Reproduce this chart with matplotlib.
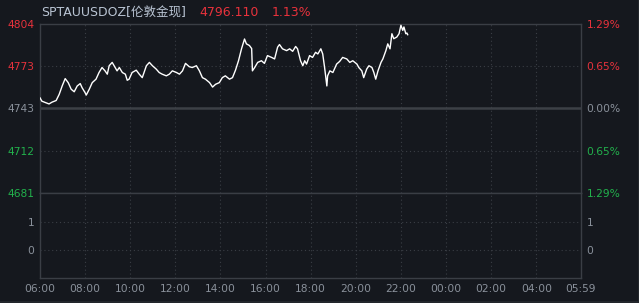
import matplotlib.pyplot as plt
from matplotlib.patches import Rectangle

# price series (minutes after 06:00, price)
time_min = [0, 5, 16, 24, 32, 43, 51, 59, 67, 75, 83, 91, 99, 107, 112, 120, 123, 131,
            139, 149, 157, 165, 173, 179, 184, 192, 200, 205, 211, 219, 227, 232, 237,
            245, 256, 264, 272, 283, 291, 299, 309, 317, 325, 336, 344, 352, 363, 371,
            379, 387, 397, 405, 416, 424, 432, 440, 451, 459, 467, 477, 485, 493, 504,
            512, 520, 528, 536, 544, 549, 557, 563, 565, 571, 579, 589, 597, 605, 616,
            624, 632, 637, 645, 656, 664, 672, 680, 685, 693, 699, 704, 709, 717, 725,
            733, 739, 747, 752, 757, 763, 765, 771, 779, 789, 797, 805, 816, 824, 832,
            843, 848, 856, 861, 869, 875, 883, 888, 893, 899, 907, 912, 920, 925, 931,
            936, 941, 949, 955, 960, 965, 968, 973, 976, 978]
price = [4750.5, 4748.1, 4746.9, 4746.1, 4747.4, 4748.6, 4753.0, 4759.1, 4764.4, 4761.5,
         4756.7, 4754.9, 4759.1, 4760.8, 4757.8, 4754.2, 4752.5, 4756.7, 4761.5, 4764.0,
         4768.8, 4772.4, 4770.0, 4767.6, 4773.7, 4776.1, 4772.4, 4770.0, 4772.4, 4768.8,
         4767.6, 4763.2, 4764.0, 4768.8, 4770.5, 4767.6, 4765.1, 4773.7, 4776.1, 4773.7,
         4771.3, 4768.8, 4767.6, 4766.4, 4767.6, 4770.0, 4768.8, 4767.6, 4770.0, 4775.4,
         4773.0, 4772.4, 4773.7, 4770.0, 4765.1, 4764.0, 4761.5, 4758.3, 4760.3, 4761.5,
         4765.1, 4766.4, 4764.0, 4765.1, 4770.5, 4777.3, 4785.9, 4793.0, 4789.5, 4788.3,
         4786.1, 4770.0, 4772.4, 4776.1, 4777.3, 4775.4, 4781.0, 4779.7, 4778.6, 4787.1,
         4789.0, 4785.9, 4784.6, 4785.9, 4784.1, 4787.6, 4785.9, 4777.3, 4773.7, 4777.3,
         4774.9, 4781.0, 4779.7, 4783.4, 4782.2, 4785.9, 4782.2, 4772.4, 4759.1, 4766.4,
         4770.0, 4768.8, 4774.9, 4776.8, 4779.7, 4778.6, 4776.1, 4777.3, 4774.9, 4772.4,
         4770.0, 4765.1, 4771.3, 4773.7, 4772.4, 4768.8, 4764.0, 4770.0, 4776.1, 4778.6,
         4784.6, 4789.5, 4785.9, 4796.8, 4793.2, 4794.4, 4796.8, 4802.9, 4799.2, 4801.7,
         4796.8, 4797.3, 4796.1]

base = 4743
price_ticks = [4804, 4773, 4743, 4712, 4681]
left_labels = ["4804", "4773", "4743", "4712", "4681"]
right_labels = ["1.29%", "0.65%", "0.00%", "0.65%", "1.29%"]
x_ticks = [0, 120, 240, 360, 480, 600, 720, 840, 960, 1080, 1200, 1320, 1439]
x_labels = ["06:00", "08:00", "10:00", "12:00", "14:00", "16:00", "18:00",
            "20:00", "22:00", "00:00", "02:00", "04:00", "05:59"]

BG = "#15181e"
GRID = "#3a3e45"
RED = "#e8323c"
GREEN = "#22b14c"
GRAY = "#8a919b"
FS = 7.7

W, H = 639, 303
fig = plt.figure(figsize=(W / 100, H / 100), dpi=100, facecolor=BG)

# frame around the widget
fig.patches.append(Rectangle((0, 0), 1, 1 - 301 / H, transform=fig.transFigure,
                             facecolor="#22262b", edgecolor="none"))
fig.patches.append(Rectangle((638 / W, 0), 1 / W, 1, transform=fig.transFigure,
                             facecolor="#22262b", edgecolor="none"))

L, R = 40 / W, 581 / W
ax = fig.add_axes([L, 1 - 193 / H, R - L, 169.5 / H], facecolor=BG)
axv = fig.add_axes([L, 1 - 278 / H, R - L, 85 / H], facecolor=BG)

span = base * 0.0129
for a in (ax, axv):
    a.set_xlim(0, 1439)
    for s in a.spines.values():
        s.set_color(GRID)
        s.set_linewidth(1.0)
    for xt in x_ticks[1:-1]:
        a.axvline(xt, color=GRID, lw=0.8, ls=(0, (1, 2.5)), zorder=1)
    a.tick_params(length=0, labelsize=FS)

ax.set_ylim(base - span, base + span)
ax.axhline(base, color="#3c4046", lw=1.8, zorder=1)
ax.axhline(base + span / 2, color=GRID, lw=0.8, ls=(0, (1, 2.5)), zorder=1)
ax.axhline(base - span / 2, color=GRID, lw=0.8, ls=(0, (1, 2.5)), zorder=1)
ax.plot(time_min, price, color="white", lw=1.0, zorder=3)

tick_pos = [base + span, base + span / 2, base, base - span / 2, base - span]
tick_colors = [RED, RED, GRAY, GREEN, GREEN]
ax.set_yticks(tick_pos)
ax.set_yticklabels(left_labels)
ax.set_xticks([])
ax.tick_params(axis="y", pad=4)
for lbl, c in zip(ax.get_yticklabels(), tick_colors):
    lbl.set_color(c)

axr = ax.twinx()
axr.set_ylim(ax.get_ylim())
axr.set_yticks(tick_pos)
axr.set_yticklabels(right_labels)
axr.tick_params(length=0, labelsize=FS, pad=4)
for s in axr.spines.values():
    s.set_visible(False)
for lbl, c in zip(axr.get_yticklabels(), tick_colors):
    lbl.set_color(c)

# volume panel
axv.set_ylim(-1, 2.036)
axv.axhline(1, color=GRID, lw=0.8, ls=(0, (1, 2.5)), zorder=1)
axv.axhline(0, color=GRID, lw=0.8, ls=(0, (1, 2.5)), zorder=1)
axv.set_yticks([1, 0])
axv.set_yticklabels(["1", "0"], color=GRAY)
axv.tick_params(axis="y", pad=4, labelright=True, labelleft=True)
axv.set_xticks(x_ticks)
axv.set_xticklabels(x_labels, color=GRAY)
axv.tick_params(axis="x", pad=4)

# header
fig.text(41 / W, 1 - 13 / H, "SPTAUUSDOZ[伦敦金现]", color="#b9c4d3", fontsize=9,
         va="center", ha="left", family=["DejaVu Sans", "Noto Sans CJK SC"])
fig.text(199 / W, 1 - 13 / H, "4796.110", color=RED, fontsize=9, va="center", ha="left")
fig.text(272 / W, 1 - 13 / H, "1.13%", color=RED, fontsize=9, va="center", ha="left")

fig.savefig("out.png", dpi=100, facecolor=BG)
